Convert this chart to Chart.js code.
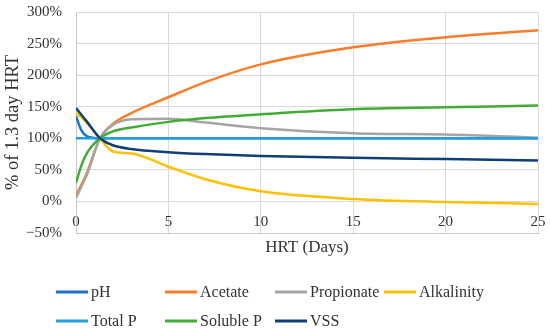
<!DOCTYPE html>
<html>
<head>
<meta charset="utf-8">
<script src="https://cdn.jsdelivr.net/npm/chart.js@4/dist/chart.umd.min.js"></script>
<style>
  html, body { margin: 0; padding: 0; background: #fff; }
  #wrap { width: 550px; height: 330px; position: relative; }
</style>
</head>
<body>
<div id="wrap"><canvas id="c"></canvas></div>
<script>
var hrt = [0, 0.3, 0.6, 1.3, 2, 3, 5, 7, 10, 15, 20, 25];

// % of 1.3 day HRT
var pH         = [135, 112, 103, 100, 100, 100, 100, 100, 100, 100, 100, 100];
var acetate    = [10, 27, 46, 100, 123, 140, 165, 189, 217, 244, 260, 271];
var propionate = [6, 24, 43, 100, 121, 130, 131, 125, 116, 108, 106, 101];
var alkalinity = [140, 133, 124, 100, 79, 76, 55, 35, 16, 4, -1, -4];
var totalP     = [100, 100, 100, 100, 100, 100, 100, 100, 100, 100, 100, 100];
var solubleP   = [29, 58, 77, 100, 111, 117, 126, 132, 138, 146, 149, 152];
var vss        = [148, 137, 126, 100, 89, 83, 78, 75, 72, 69, 67, 65];

var labels = ['pH', 'Acetate', 'Propionate', 'Alkalinity', 'Total P', 'Soluble P', 'VSS'];
var colors = ['#1f70c8', '#fb7d2a', '#a5a5a5', '#ffc000', '#1ea0e0', '#42ad36', '#0d3f78'];
var series = [pH, acetate, propionate, alkalinity, totalP, solubleP, vss];

var yTicks = [-50, 0, 50, 100, 150, 200, 250, 300];
var xTicks = [0, 5, 10, 15, 20, 25];

var serif = "'Liberation Serif', 'Times New Roman', serif";
var textColor = '#333333';

var datasets = series.map(function (s, i) {
  return {
    label: labels[i],
    data: hrt.map(function (x, j) { return { x: x, y: s[j] }; }),
    borderColor: colors[i],
    backgroundColor: colors[i],
    borderWidth: 2.5,
    pointRadius: 0,
    fill: false,
    cubicInterpolationMode: 'monotone',
    order: series.length - i
  };
});

// legend in a fixed 4-column grid, like the original
var gridLegend = {
  id: 'gridLegend',
  afterDraw: function (chart) {
    var ctx = chart.ctx;
    var colX = [56, 165, 275, 384];
    var rowY = [292, 321];
    ctx.save();
    ctx.font = '16px ' + serif;
    ctx.textBaseline = 'middle';
    ctx.fillStyle = textColor;
    chart.data.datasets.forEach(function (ds, i) {
      var x = colX[i % 4], y = rowY[Math.floor(i / 4)];
      ctx.strokeStyle = ds.borderColor;
      ctx.lineWidth = 3;
      ctx.beginPath();
      ctx.moveTo(x, y);
      ctx.lineTo(x + 32, y);
      ctx.stroke();
      ctx.fillText(ds.label, x + 35, y + 1);
    });
    ctx.restore();
  }
};

new Chart(document.getElementById('c'), {
  type: 'line',
  data: { datasets: datasets },
  plugins: [gridLegend],
  options: {
    responsive: true,
    maintainAspectRatio: false,
    animation: false,
    layout: { padding: { left: 0, right: 12, top: 12, bottom: 0 } },
    plugins: { legend: { display: false }, tooltip: { enabled: false } },
    scales: {
      x: {
        type: 'linear',
        min: 0, max: 25,
        afterBuildTicks: function (axis) { axis.ticks = xTicks.map(function (v) { return { value: v }; }); },
        afterFit: function (axis) { axis.height = 97; },
        grid: { color: '#d9d9d9', lineWidth: 1, drawTicks: false },
        border: { color: '#c8c8c8' },
        // labels sit just under the 0% line, inside the plot, as in the original
        ticks: { mirror: true, padding: 2, autoSkip: false, color: textColor, font: { family: serif, size: 15 }, maxRotation: 0 },
        title: { display: true, text: 'HRT (Days)', color: textColor, font: { family: serif, size: 17 }, padding: { top: 0, bottom: 72 } }
      },
      y: {
        min: -50, max: 300,
        afterBuildTicks: function (axis) { axis.ticks = yTicks.map(function (v) { return { value: v }; }); },
        afterFit: function (axis) { axis.width = 76; axis.paddingTop = 0; axis.paddingBottom = 0; },
        grid: { color: '#d9d9d9', lineWidth: 1, drawTicks: false },
        border: { color: '#c8c8c8' },
        ticks: {
          padding: 14, color: textColor, font: { family: serif, size: 15 },
          callback: function (v) { return (v < 0 ? '\u2212' + (-v) : v) + '%'; }
        },
        title: { display: true, text: '% of 1.3 day HRT', color: textColor, font: { family: serif, size: 18.5 }, padding: { top: 2, bottom: 0 } }
      }
    }
  }
});
</script>
</body>
</html>
